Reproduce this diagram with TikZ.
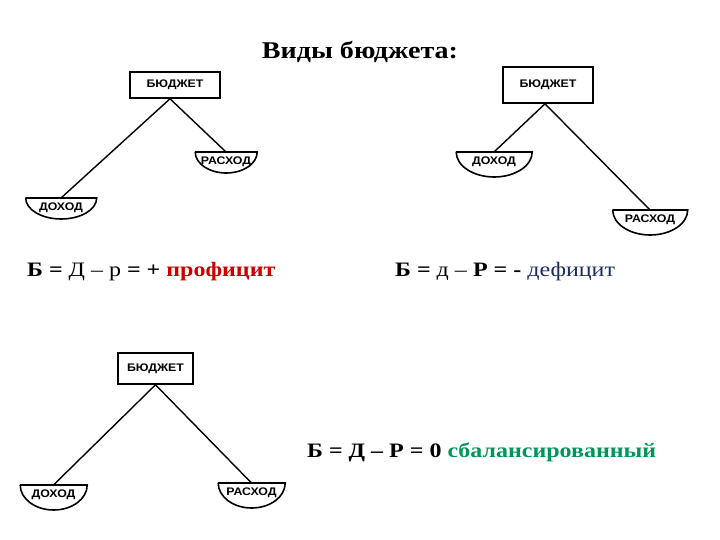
\documentclass[tikz,border=0pt]{standalone}
\usepackage{fontspec}
\setmainfont{Liberation Serif}[FakeStretch=1.17]
\newfontfamily\boxfont{Liberation Sans}[FakeStretch=1.12]
\definecolor{profred}{RGB}{204,0,0}
\definecolor{defblue}{RGB}{28,45,95}
\definecolor{balgreen}{RGB}{0,150,90}
\begin{document}
\begin{tikzpicture}[x=1pt,y=1pt,
  boxnode/.style={draw,line width=1.6pt,inner sep=0pt,font=\boxfont\bfseries\fontsize{11}{12}\selectfont},
  bowltext/.style={inner sep=0pt,minimum height=19pt,font=\boxfont\bfseries\fontsize{11}{12}\selectfont},
  bowlline/.style={line width=1.6pt},
  conn/.style={line width=1.4pt},
  eqn/.style={anchor=west,inner sep=0pt,font=\fontsize{20.5}{24}\selectfont}]
\newcommand\mybowl[6]{%
  \node[bowltext,minimum width=#4pt,anchor=north] (#1) at (#2,#3) {#6};
  \draw[bowlline] (#1.north west) -- (#1.north east)
     arc[start angle=0,end angle=-180,x radius={#4pt/2},y radius=#5pt];
}
\useasboundingbox (0,0) rectangle (720,-540);
\fill[white] (0,0) rectangle (720,-540);
% title
\node[inner sep=0pt,font=\bfseries\fontsize{24}{28}\selectfont] (title) at (360,-52) {Виды бюджета:};
% tree 1
\node[boxnode,minimum width=90pt,minimum height=26pt] (b1) at (175,-85) {БЮДЖЕТ};
\mybowl{d1}{61}{-198}{71}{21}{ДОХОД}
\mybowl{r1}{226}{-152}{62}{21}{РАСХОД}
\draw[conn] ([xshift=-5pt]b1.south) -- (d1.north);
\draw[conn] ([xshift=-5pt]b1.south) -- (r1.north);
% tree 2
\node[boxnode,minimum width=90pt,minimum height=36pt] (b2) at (548,-85) {БЮДЖЕТ};
\mybowl{d2}{494}{-152}{76}{25}{ДОХОД}
\mybowl{r2}{650}{-210}{75}{25}{РАСХОД}
\draw[conn] ([xshift=-3pt]b2.south) -- (d2.north);
\draw[conn] ([xshift=-3pt]b2.south) -- (r2.north);
% tree 3
\node[boxnode,minimum width=75pt,minimum height=31pt] (b3) at (155.5,-368.5) {БЮДЖЕТ};
\mybowl{d3}{53.5}{-485}{67}{25}{ДОХОД}
\mybowl{r3}{251.5}{-483}{67}{25}{РАСХОД}
\draw[conn] (b3.south) -- (d3.north);
\draw[conn] (b3.south) -- (r3.north);
% equations
\node[eqn] (e1) at (27,-272) {\textbf{Б =} Д – р \textbf{= +} \textcolor{profred}{\textbf{профицит}}};
\node[eqn] (e2) at (395,-272) {\textbf{Б =} д – \textbf{Р = -} \textcolor{defblue}{дефицит}};
\node[eqn] (e3) at (307,-452) {\textbf{Б = Д – Р = 0} \textcolor{balgreen}{\textbf{сбалансированный}}};
\end{tikzpicture}
\end{document}
